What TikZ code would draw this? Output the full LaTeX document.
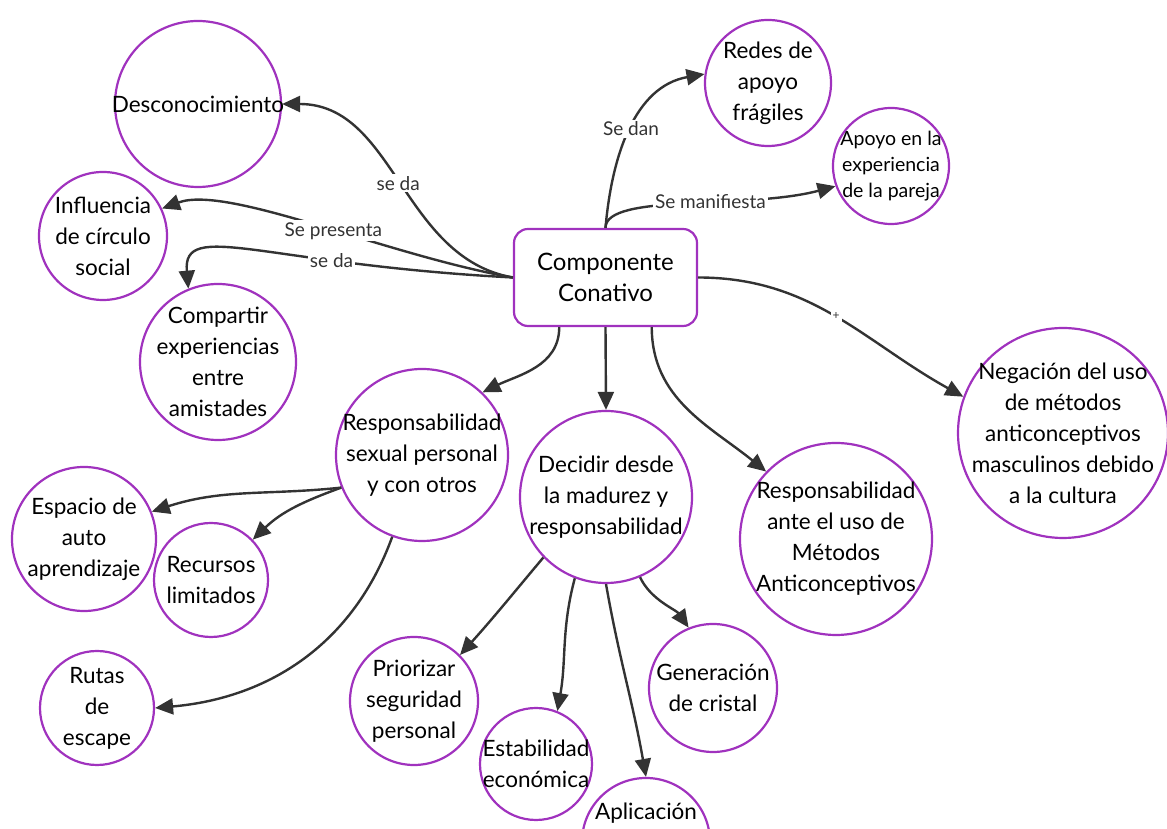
\documentclass[tikz,border=0pt]{standalone}
\usepackage{fontspec}
\setmainfont{Lato}
\usetikzlibrary{arrows.meta}
\definecolor{topic}{RGB}{160,50,190}
\definecolor{ink}{RGB}{51,51,51}
\tikzset{>/.tip={Triangle[length=18pt,width=16pt]}}
\tikzset{topic/.style={circle,draw=topic,line width=2.2pt,minimum size=#1,inner sep=0pt}}
\tikzset{intext/.style={align=center,inner sep=0pt,font=\fontsize{22.5}{31}\selectfont}}
\tikzset{smalltext/.style={align=center,inner sep=0pt,font=\fontsize{19.5}{26}\selectfont}}
\tikzset{lbl/.style={fill=white,inner sep=2pt,text=ink,font=\fontsize{19}{22}\selectfont}}
\tikzset{link/.style={draw=ink,line width=2.4pt,->}}

\begin{document}
\begin{tikzpicture}[x=1pt,y=1pt]
        \useasboundingbox (0,0) rectangle (1167,829);
        \clip (0,0) rectangle (1167,829);
        \node(cc)[draw=topic,line width=2.2pt,rounded corners=14pt,minimum width=183pt,minimum height=97pt,
          align=center,font=\fontsize{24}{31}\selectfont] at (605.5,551.5) {Componente\\Conativo};
        % upper left
        \node(desc)[topic=166,label={[intext]center:Desconocimiento}] at (198,725) {};
        \node(infl)[topic=128,label={[intext]center:{Influencia\\de círculo\\social}}] at (103,593) {};
        \node(comp)[topic=156,label={[intext]center:{Compartir\\experiencias\\entre\\amistades}}] at (218,467) {};
        % upper right
        \node(redes)[topic=126,label={[intext]center:{Redes de\\apoyo\\frágiles}}] at (768,746) {};
        \node(apoyo)[topic=116,label={[smalltext]center:{Apoyo en la\\experiencia\\de la pareja}}] at (891,663) {};
        \node(neg)[topic=210,label={[intext]center:{Negación del uso\\de métodos\\anticonceptivos\\masculinos debido\\a la cultura}}] at (1063,396) {};
        % middle row
        \node(rsex)[topic=172,label={[intext]center:{Responsabilidad\\sexual personal\\y con otros}}] at (422,374) {};
        \node(decid)[topic=172,label={[intext]center:{Decidir desde\\la madurez y\\responsabilidad}}] at (606,332) {};
        \node(rante)[topic=192,label={[intext]center:{Responsabilidad\\ante el uso de\\Métodos\\Anticonceptivos}}] at (836,290) {};
        % lower left
        \node(esp)[topic=144,label={[intext]center:{Espacio de\\auto\\aprendizaje}}] at (84,290) {};
        \node(recur)[topic=114,label={[intext]center:{Recursos\\limitados}}] at (211,249) {};
        \node(rutas)[topic=114,label={[intext]center:{Rutas\\de\\escape}}] at (97,121) {};
        % lower middle
        \node(prior)[topic=128,label={[intext]center:{Priorizar\\seguridad\\personal}}] at (414,128) {};
        \node(estab)[topic=112,label={[intext]center:{Estabilidad\\económica}}] at (536,65) {};
        \node(aplic)[topic=128,label={[intext]center:{Aplicación\\[30pt]\mbox{}}}] at (646,-13) {};
        \node(gen)[topic=128,label={[intext]center:{Generación\\de cristal}}] at (713,141) {};

        \path[every edge/.style=link]
        (cc.west) edge[out=170,in=0] node[lbl]{se da} (desc.east)
        (cc.west) edge[out=170,in=20,out distance=130pt,in distance=70pt] node[lbl,pos=.45]{Se presenta} (infl.25)
        (cc.west) edge[out=177,in=95,out distance=250pt,in distance=70pt] node[lbl,pos=.3]{se da} (comp.112)
        (cc.north) edge[out=85,in=190] node[lbl]{Se dan} (redes.172)
        (cc.north) edge[out=90,in=195,out distance=35pt] node[lbl,pos=.58]{Se manifiesta} (apoyo.200)
        (cc.east) edge[out=0,in=151] node[lbl,font=\fontsize{12}{14}\selectfont]{+} (neg.160)
        (cc.-133) edge[out=-90,in=26] (rsex.46)
        (cc.south) edge (decid.north)
        (cc.-47) edge[out=-90,in=141] (rante.136)
        (rsex.202) edge[out=186,in=18] (esp.22)
        (rsex.202) edge[out=200,in=44] (recur.44)
        (rsex.250) edge[out=250,in=5] (rutas.east)
        (decid.224) edge[out=230,in=48] (prior.45)
        (decid.249) edge[out=255,in=80] (estab.68)
        (decid.south) edge[out=-80,in=100] (aplic.north)
        (decid.293) edge[out=-65,in=125,out distance=25pt,in distance=22pt] (gen.112);
\end{tikzpicture}
\end{document}
